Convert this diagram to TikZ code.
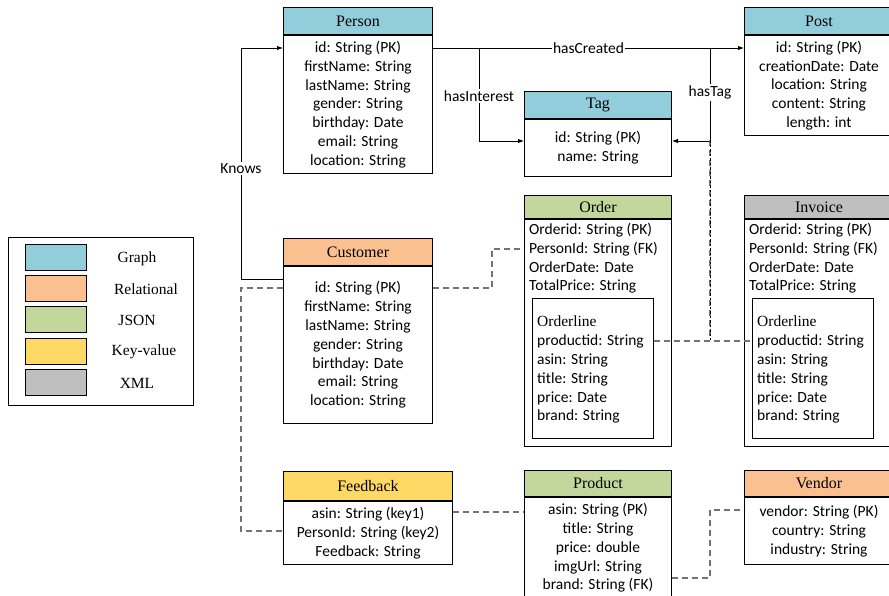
\documentclass[tikz,border=0pt]{standalone}
\usepackage{fontspec}
\setmainfont{Liberation Serif}
\newfontfamily\attrfont{Carlito}
\usetikzlibrary{positioning,arrows.meta}

\definecolor{graph}{RGB}{146,205,220}
\definecolor{relational}{RGB}{250,192,144}
\definecolor{json}{RGB}{195,214,155}
\definecolor{keyvalue}{RGB}{255,217,102}
\definecolor{xml}{RGB}{191,191,191}

\tikzset{
  head/.style={draw, line width=1pt, inner sep=0pt, anchor=north west, font=\fontsize{16}{19}\selectfont},
  tbody/.style={draw, line width=1pt, inner sep=0pt, align=center, font=\attrfont\fontsize{15.5}{18.8}\selectfont},
  attr/.style={inner sep=0pt, anchor=north west, align=left, font=\attrfont\fontsize{15.5}{18.8}\selectfont},
  rel/.style={line width=0.9pt, -{Latex[length=6pt,width=4.5pt]}},
  lbl/.style={fill=white, inner sep=1.5pt, font=\attrfont\fontsize{15.5}{18}\selectfont},
  fk/.style={draw=black!55, line width=1.1pt, dash pattern=on 6pt off 4pt},
}

\begin{document}
\begin{tikzpicture}[x=1pt, y=-1pt]
    \useasboundingbox (0,0) rectangle (889,595);

    % legend
    \node[draw, line width=0.9pt, minimum width=185pt, minimum height=168pt, anchor=north west] (legend) at (8,237) {};
    \foreach \c/\t/\lx [count=\i] in {graph/Graph/137, relational/Relational/146, json/JSON/137, keyvalue/Key-value/144, xml/XML/137} {
        \node[draw, line width=0.9pt, fill=\c, minimum width=61pt, minimum height=26pt] (sw\i) at (55.5,{226+31.3*\i}) {};
        \node[font=\fontsize{15.5}{18}\selectfont] (lg\i) at (\lx,{227+31.3*\i}) {\t};
    }

    % graph part
    \node[head, fill=graph, minimum width=149pt, minimum height=27pt] (person) at (283,7) {Person};
    \node[tbody, minimum width=149pt, minimum height=138pt, below=0pt of person] (personbody)
        {id: String (PK)\\ firstName: String\\ lastName: String\\ gender: String\\ birthday: Date\\ email: String\\ location: String};
    \node[head, fill=graph, minimum width=149pt, minimum height=27pt] (post) at (744,7) {Post};
    \node[tbody, minimum width=149pt, minimum height=100pt, below=0pt of post] (postbody)
        {id: String (PK)\\ creationDate: Date\\ location: String\\ content: String\\ length: int};
    \node[head, fill=graph, minimum width=147pt, minimum height=27pt] (tag) at (524,91) {Tag};
    \node[tbody, minimum width=147pt, minimum height=57pt, below=0pt of tag] (tagbody)
        {id: String (PK)\\ name: String};

    % relational and others
    \node[head, fill=relational, minimum width=149pt, minimum height=27pt] (cust) at (283,238) {Customer};
    \node[tbody, minimum width=149pt, minimum height=157pt, below=0pt of cust] (custbody)
        {id: String (PK)\\ firstName: String\\ lastName: String\\ gender: String\\ birthday: Date\\ email: String\\ location: String};
    \node[head, fill=keyvalue, minimum width=169pt, minimum height=29pt] (fb) at (283,471) {Feedback};
    \node[tbody, minimum width=169pt, minimum height=63pt, below=0pt of fb] (fbbody)
        {asin: String (key1)\\ PersonId: String (key2)\\ Feedback: String};
    \node[head, fill=json, minimum width=147pt, minimum height=26pt] (prod) at (524,470) {Product};
    \node[tbody, minimum width=147pt, minimum height=101pt, below=0pt of prod] (prodbody)
        {asin: String (PK)\\ title: String\\ price: double\\ imgUrl: String\\ brand: String (FK)};
    \node[head, fill=relational, minimum width=149pt, minimum height=26pt] (vend) at (744,470) {Vendor};
    \node[tbody, minimum width=149pt, minimum height=67pt, below=0pt of vend] (vendbody)
        {vendor: String (PK)\\ country: String\\ industry: String};

    \foreach \n/\x/\w/\c/\t in {order/524/147/json/Order, invoice/744/149/xml/Invoice} {
        \node[head, fill=\c, minimum width=\w pt, minimum height=23pt] (\n) at (\x,195) {\t};
        \node[tbody, minimum width=\w pt, minimum height=227pt, below=0pt of \n] (\n body) {};
        \node[attr] (\n attr) at ([xshift=5pt,yshift=-4pt]\n body.north west)
            {Orderid: String (PK)\\ PersonId: String (FK)\\ OrderDate: Date\\ TotalPrice: String};
        \node[draw, line width=0.9pt, minimum width=121pt, minimum height=140pt, anchor=north west] (\n line)
            at ([xshift=8pt,yshift=-79pt]\n body.north west) {};
        \node[attr] (\n items) at ([xshift=5pt,yshift=-18pt]\n line.north west)
            {{\rmfamily Orderline}\\ productid: String\\ asin: String\\ title: String\\ price: Date\\ brand: String};
    }

    % relations
    \draw[rel] ([yshift=-13pt]personbody.north east) -- node[lbl]{hasCreated} ([yshift=-13pt]postbody.north west);
    \draw[rel] ([xshift=46pt,yshift=-13pt]personbody.north east) |- node[lbl,pos=0.26]{hasInterest} ([yshift=-22pt]tagbody.north west);
    \draw[rel] ([xshift=-34pt,yshift=-13pt]postbody.north west) |- node[lbl,pos=0.24]{hasTag} ([yshift=-22pt]tagbody.north east);
    \draw[rel] ([yshift=-13pt]custbody.north west) -- ++(-42,0) |- node[lbl,pos=0.24]{Knows} ([yshift=-13pt]personbody.north west);

    % links between models
    \coordinate (tagjoin) at (710,140);
    \coordinate (linejoin) at (710,340);
    \draw[fk] (tagjoin) -- (linejoin);
    \draw[line width=1pt, dash pattern=on 2.5pt off 2pt] (tagjoin) -- (linejoin);
    \draw[fk] ([yshift=-43pt]orderline.north east) -- ([yshift=-43pt]invoiceline.north west);
    \draw[fk] ([yshift=-22pt]custbody.north east) -- ++(59,0) |- ([yshift=-30pt]orderbody.north west);
    \draw[fk] ([yshift=-22pt]custbody.north west) -- ++(-42,0) |- ([yshift=-30pt]fbbody.north west);
    \draw[fk] ([yshift=-11pt]fbbody.north east) -- ([yshift=-15pt]prodbody.north west);
    \draw[fk] ([yshift=-81pt]prodbody.north east) -- ++(38,0) |- ([yshift=-13pt]vendbody.north west);
\end{tikzpicture}
\end{document}
